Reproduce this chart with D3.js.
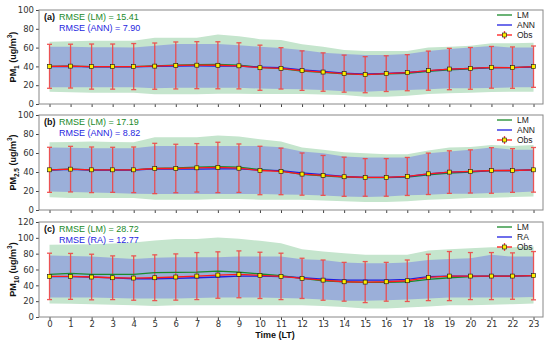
<!DOCTYPE html>
<html>
<head>
<meta charset="utf-8">
<script src="https://cdn.jsdelivr.net/npm/d3@7"></script>
<style>
  body { margin: 0; background: #fff; }
  svg { font-family: "Liberation Sans", Arial, sans-serif; }
  .tick text { fill: #333; font-size: 8.5px; font-family: "DejaVu Sans", sans-serif; }
  .tick line { stroke: #444; }
  .domain { display: none; }
</style>
</head>
<body>
<svg id="chart" width="550" height="341"></svg>
<script>
var hours = d3.range(0, 24);

// panel (a) PM1
var obsA = [40.1,40.3,39.8,39.8,39.8,40.3,41.0,41.3,41.2,40.6,38.6,37.9,35.5,34.0,32.3,31.2,32.3,33.3,35.5,37.2,37.9,39.0,38.7,39.7];
var stdA = [23.4,23.3,24,24,24.5,24.6,25,25,25,24.5,24,22,21,20.4,19.7,19.2,19,19.2,20.8,22,22.2,22.2,22,22];
var lmA = [40.0,40.2,39.8,39.7,39.8,40.5,41.4,41.9,42.0,41.3,39.0,37.6,35.0,33.8,32.1,31.4,32.0,32.6,34.6,36.4,37.5,38.8,38.7,39.6];
var annA = [39.8,40.0,39.6,39.5,39.6,40.0,40.4,40.5,40.3,40.2,39.2,38.6,36.4,34.8,32.9,31.8,32.6,33.5,35.3,37.0,37.8,38.8,38.7,39.6];
var annHiA = [61,61,60.5,60.3,60,62,63.8,63.8,63.8,62.5,61,59.5,57.4,54.6,53.2,52.1,52.1,53.2,56.4,58.5,60,61.7,60,60];
var annLoA = [17.7,17.7,17.7,17.7,17.7,16.7,17.2,17.2,17.2,17.2,16.4,16,15.6,14.9,13.5,13.1,14.2,14.9,15.6,16.7,16.7,17,17.7,17.7];
var lmHiA = [66.3,66.8,67.4,67.4,67.4,70.6,70.6,70.6,74,72,69,68,63.5,61,57.4,56.4,56.4,56.4,60,61,62,64.5,64.5,65.2];
var lmLoA = [13.1,12.6,12,12,12,10.3,10.3,10.3,11,10.8,10.6,10.6,10.6,10,9.6,7.8,7.8,8.9,10.6,11.5,12,12.8,13.1,13.1];

// panel (b) PM2.5
var obsB = [42.3,43,42.3,42.3,42.3,43.7,43.7,44.4,44.8,44,41.6,40.6,37.8,36.4,35,34.3,34.3,35.3,38.1,39.9,40.6,41.6,41.6,42.3];
var stdB = [23.7,24,24,23.7,24,26.5,25.5,25.5,26.5,25.5,25.5,24.5,22.2,21,20.6,19.8,19.8,20,21.8,22.4,22.7,24,23,23.5];
var lmB = [42.3,43,42.3,42.2,42.3,43.9,44.2,45.1,45.7,45.2,42.6,41,37.6,36,34.5,34.0,34.0,34.5,36.9,38.8,40.0,41.4,41.5,42.2];
var annB = [42.0,42.7,42.1,42.0,42.1,43.2,43.0,43.1,43.3,43.3,42.0,41.5,39.0,37.3,35.3,34.3,34.3,35.1,37.9,39.8,40.5,41.5,41.6,42.3];
var annHiB = [65.7,65.5,65,65,65,67.5,67.5,67.5,67.5,67.5,67.5,66,61.5,59.8,56.3,55.2,55.2,55.2,59.8,61.5,63.3,65.7,63.3,63.3];
var annLoB = [19.6,19,18.5,17.8,17.2,16.8,16.8,16.8,16.8,16.8,16.8,16.4,16,15.2,14.3,13.6,14.3,15.4,16,17.1,17.1,17.8,18.5,19.6];
var lmHiB = [71.3,71.6,72,71.6,71.3,76.6,76.6,76.6,78.3,77.3,74.5,72,65.7,63.3,60.8,59.8,58.7,58.7,62.6,65.7,66.4,68.5,67.4,68.5];
var lmLoB = [13.3,12.6,12.6,12.6,12.6,10.8,10.8,10.8,11.5,11.5,10.8,10.8,10.8,10,9.1,8.4,8.4,9.1,10.8,11.5,12.6,13,13.6,14.3];

// panel (c) PM10
var obsC = [51.3,51.3,50.5,49.6,49.2,49.6,50.5,51.7,53,53.9,52.6,51.3,48.8,46.6,44.5,44.1,44.5,45.8,50,51.7,51.7,51.7,51.7,52.2];
var stdC = [29.3,29,28.8,27.6,28,28.9,29.2,29.7,29.3,29.6,29.2,29.3,25.4,25.4,24.5,25.9,24.5,26.2,29.3,31,29.7,29.7,29.3,30.5];
var lmC = [53.9,55,53.9,53.9,53.9,56,56.4,56.8,58,56.8,54.3,52.2,48.8,45.8,44.5,43.7,43.7,44.5,47.5,49.6,50.9,51.7,51.7,52.2];
var raC = [50.9,50.9,50.5,49.4,48.3,48.3,48.8,49.6,50.5,51.7,51.7,50.9,49.6,47.9,46.6,46.6,46.6,47.5,50.9,51.7,51.7,51.7,51.7,52.2];
var raHiC = [77.6,77,76.3,75,73.4,75,75.5,75.5,75.5,76.3,76.3,76.3,73,72,68.7,67.9,67.9,68.7,72,73.4,74.2,78.5,76.3,76.3];
var raLoC = [24.6,24.6,24.6,24,23.3,23.3,23.3,24,24.6,24.6,24.6,24,23.3,22,20.4,20.4,21.2,22,23.3,24.6,24.6,24.6,24.6,25.4];
var lmHiC = [91.2,91.6,92,93,94.1,96.7,98.4,98.4,100.5,98.8,96.3,93.3,85.7,82.7,80.6,78.5,78.5,78.5,84,85.7,87,88.2,88.2,89];
var lmLoC = [17,16.6,16.1,15.5,14.8,14,14.8,14.8,14.8,14.8,14.8,14.8,14.8,13.8,12.7,10.6,10.6,11.9,13.4,14.8,14.8,15.5,16.1,17];

var panels = [
    { tag: "(a)", sub: "1", ymax: 100, top: 10, bottom: 104, model: "ANN",
      rmse: ["RMSE (LM) = 15.41", "RMSE (ANN) = 7.90"],
      obs: obsA, std: stdA, lm: lmA, mod: annA, modHi: annHiA, modLo: annLoA, lmHi: lmHiA, lmLo: lmLoA },
    { tag: "(b)", sub: "2.5", ymax: 100, top: 115, bottom: 210, model: "ANN",
      rmse: ["RMSE (LM) = 17.19", "RMSE (ANN) = 8.82"],
      obs: obsB, std: stdB, lm: lmB, mod: annB, modHi: annHiB, modLo: annLoB, lmHi: lmHiB, lmLo: lmLoB },
    { tag: "(c)", sub: "10", ymax: 120, top: 222, bottom: 317, model: "RA",
      rmse: ["RMSE (LM) = 28.72", "RMSE (RA) = 12.77"],
      obs: obsC, std: stdC, lm: lmC, mod: raC, modHi: raHiC, modLo: raLoC, lmHi: lmHiC, lmLo: lmLoC }
];

var left = 39, right = 543;
var svg = d3.select("#chart");
var x = d3.scaleLinear().domain([-0.5, 23.45]).range([left, right]);

var green = "#1a8a2a", blue = "#1f1fe0", red = "#ff1a1a";

panels.forEach(function (p, i) {
    var y = d3.scaleLinear().domain([0, p.ymax]).range([p.bottom, p.top]);
    var g = svg.append("g");

    var area = function (hi, lo) {
        return d3.area()
            .x(function (d) { return x(d); })
            .y0(function (d) { return y(lo[d]); })
            .y1(function (d) { return y(hi[d]); });
    };
    g.append("path").attr("d", area(p.lmHi, p.lmLo)(hours)).attr("fill", "#c5e5cd");
    g.append("path").attr("d", area(p.modHi, p.modLo)(hours)).attr("fill", "#9bafd9");

    // error bars
    var eb = g.append("g").attr("stroke", "#f04545").attr("stroke-width", 1.3).attr("opacity", 0.9);
    hours.forEach(function (h) {
        var t = y(p.obs[h] + p.std[h]), b = y(p.obs[h] - p.std[h]);
        eb.append("line").attr("x1", x(h)).attr("x2", x(h)).attr("y1", t).attr("y2", b);
        eb.append("line").attr("x1", x(h) - 2.5).attr("x2", x(h) + 2.5).attr("y1", t).attr("y2", t);
        eb.append("line").attr("x1", x(h) - 2.5).attr("x2", x(h) + 2.5).attr("y1", b).attr("y2", b);
    });

    var line = function (arr) {
        return d3.line().x(function (d) { return x(d); }).y(function (d) { return y(arr[d]); });
    };
    g.append("path").attr("d", line(p.lm)(hours)).attr("fill", "none").attr("stroke", green).attr("stroke-width", 1.3);
    g.append("path").attr("d", line(p.mod)(hours)).attr("fill", "none").attr("stroke", blue).attr("stroke-width", 1.3);
    g.append("path").attr("d", line(p.obs)(hours)).attr("fill", "none").attr("stroke", red).attr("stroke-width", 1.3);
    g.selectAll("rect.mk").data(hours).enter().append("rect")
        .attr("x", function (d) { return x(d) - 2; })
        .attr("y", function (d) { return y(p.obs[d]) - 2; })
        .attr("width", 4).attr("height", 4)
        .attr("fill", "#ffee00").attr("stroke", "#111").attr("stroke-width", 0.6);

    // axes
    g.append("g").attr("transform", "translate(" + left + ",0)")
        .call(d3.axisLeft(y).tickValues(d3.range(0, p.ymax + 1, 20)).tickSize(3).tickPadding(2));
    var xa = g.append("g").attr("transform", "translate(0," + p.bottom + ")")
        .call(d3.axisBottom(x).tickValues(hours).tickSize(3).tickPadding(1));
    if (i < 2) xa.selectAll("text").remove();

    g.append("rect").attr("x", left).attr("y", p.top).attr("width", right - left).attr("height", p.bottom - p.top)
        .attr("fill", "none").attr("stroke", "#888").attr("stroke-width", 1);

    // y label
    var yl = g.append("text")
        .attr("transform", "translate(16," + ((p.top + p.bottom) / 2) + ") rotate(-90)")
        .attr("text-anchor", "middle").attr("font-size", 9).attr("font-weight", "bold").attr("fill", "#111");
    yl.append("tspan").text("PM");
    yl.append("tspan").attr("font-size", 6.5).attr("dy", 2.5).text(p.sub);
    yl.append("tspan").attr("dy", -2.5).text(" (ug/m");
    yl.append("tspan").attr("font-size", 6.5).attr("dy", -4).text("3");
    yl.append("tspan").attr("dy", 4).text(")");

    // panel tag and rmse
    g.append("text").attr("x", 44).attr("y", p.top + 10).attr("font-size", 9).attr("font-weight", "bold")
        .attr("fill", "#111").text(p.tag);
    g.append("text").attr("x", 59).attr("y", p.top + 10).attr("font-size", 9).attr("fill", green).text(p.rmse[0]);
    g.append("text").attr("x", 59).attr("y", p.top + 20.5).attr("font-size", 9).attr("fill", blue).text(p.rmse[1]);

    // legend
    var lg = g.append("g").attr("transform", "translate(497," + (p.top + 5) + ")");
    var items = [["LM", green], [p.model, blue], ["Obs", red]];
    items.forEach(function (it, k) {
        var yy = k * 10;
        lg.append("line").attr("x1", 0).attr("x2", 15).attr("y1", yy).attr("y2", yy)
            .attr("stroke", it[1]).attr("stroke-width", 1.3);
        if (k === 2) {
            lg.append("line").attr("x1", 7.5).attr("x2", 7.5).attr("y1", yy - 4).attr("y2", yy + 4)
                .attr("stroke", "#f04545").attr("stroke-width", 1.3);
            lg.append("rect").attr("x", 5.5).attr("y", yy - 2).attr("width", 4).attr("height", 4)
                .attr("fill", "#ffee00").attr("stroke", "#111").attr("stroke-width", 0.6);
        }
        lg.append("text").attr("x", 20).attr("y", yy + 3).attr("font-size", 8.5).attr("fill", "#222").text(it[0]);
    });
});

svg.append("text").attr("x", 275).attr("y", 338).attr("text-anchor", "middle")
    .attr("font-size", 9).attr("font-weight", "bold").attr("fill", "#111").text("Time (LT)");
</script>
</body>
</html>
